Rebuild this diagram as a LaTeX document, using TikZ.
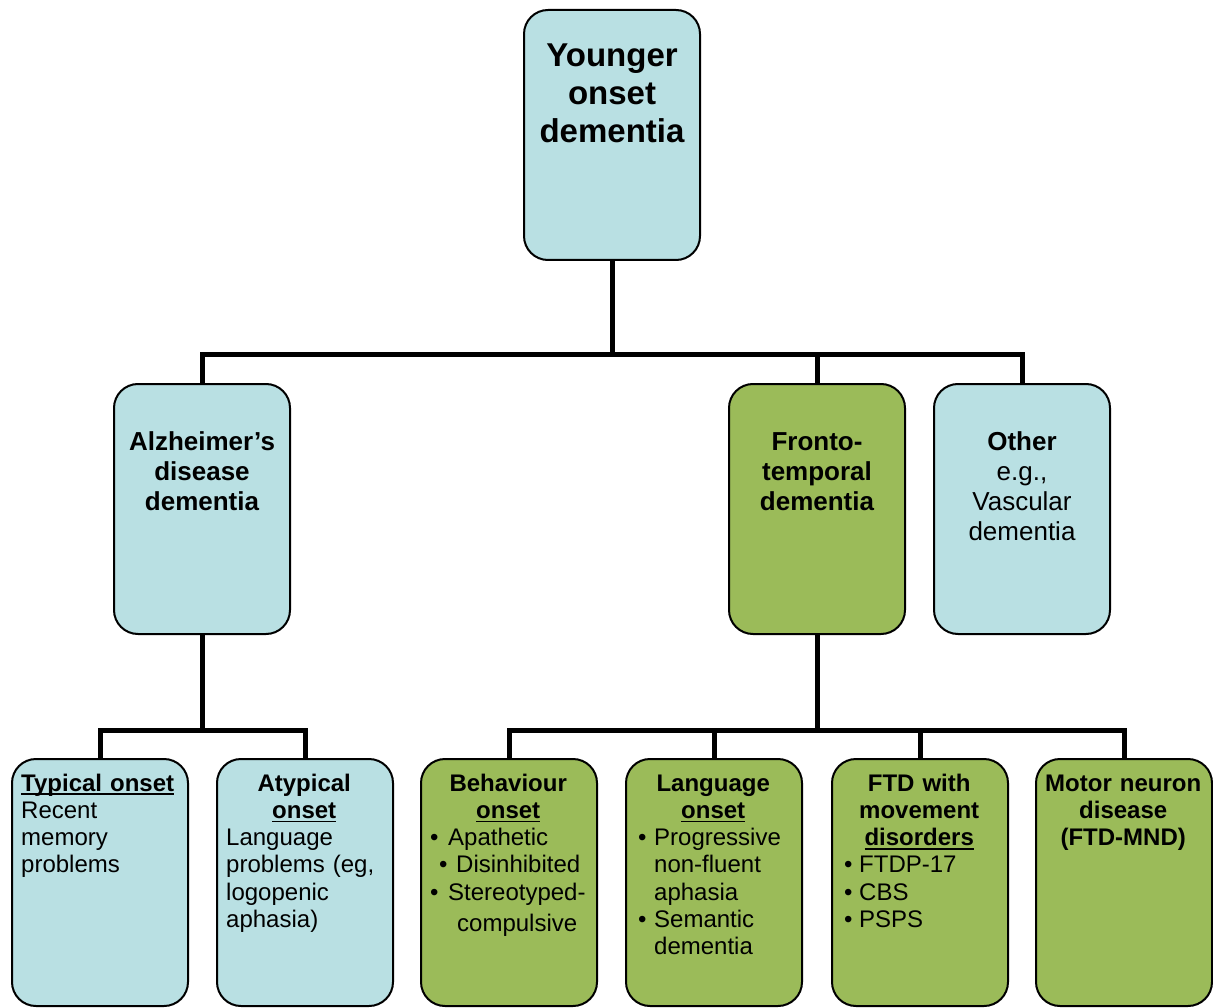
\documentclass[tikz,border=0pt]{standalone}
\usepackage{fontspec}
\setmainfont{Liberation Sans}
\usepackage{xcolor}

\definecolor{boxblue}{HTML}{B9E0E3}
\definecolor{boxgreen}{HTML}{9BBB59}

\newcommand{\ulword}[1]{\leavevmode\sbox0{#1}\rlap{\rule[-4pt]{\wd0}{1.8pt}}\usebox0}
\newcommand{\bulletat}[2]{\hspace*{#1}\makebox[#2][l]{•}}

\begin{document}
\begin{tikzpicture}
[x=1pt,y=-1pt,
 dembox/.style={draw,line width=2pt,rounded corners=24pt,minimum width=176pt,minimum height=250pt,inner sep=0pt},
 leafbox/.style={dembox,minimum height=247pt},
 treeline/.style={line width=5pt},
 toptext/.style={text width=170pt,align=center,inner sep=0pt,anchor=base,font=\fontsize{33}{38}\selectfont\bfseries},
 midtext/.style={text width=166pt,align=center,inner sep=0pt,anchor=base,font=\fontsize{26}{30}\selectfont},
 leaftext/.style={text width=156pt,align=left,inner sep=0pt,anchor=base west,font=\fontsize{24}{27.3}\selectfont}]

\useasboundingbox (0,0) rectangle (1213,1008);

\node[dembox,fill=boxblue] (young) at (612,135) {}; %top
\node[toptext] (youngtxt) at ([yshift=-58pt]young.north) {Younger\\onset\\dementia};

\node[dembox,fill=boxblue] (alz) at (202,509) {};
\node[dembox,fill=boxgreen] (ftd) at (817,509) {};
\node[dembox,fill=boxblue] (other) at (1022,509) {};

\node[midtext] (alztxt) at ([yshift=-67pt]alz.north) {\bfseries Alzheimer’s\\disease\\dementia};
\node[midtext] (ftdtxt) at ([yshift=-67pt]ftd.north) {\bfseries Fronto-\\temporal\\dementia};
\node[midtext] (othertxt) at ([yshift=-67pt]other.north) {{\bfseries Other}\\e.g.,\\Vascular\\dementia};

\node[leafbox,fill=boxblue] (typ) at (100,882.5) {};
\node[leafbox,fill=boxblue] (atyp) at (305,882.5) {};
\node[leafbox,fill=boxgreen] (beh) at (509,882.5) {};
\node[leafbox,fill=boxgreen] (lang) at (714,882.5) {};
\node[leafbox,fill=boxgreen] (mov) at (920,882.5) {};
\node[leafbox,fill=boxgreen] (mnd) at (1124,882.5) {};

\node[leaftext] (typtxt) at ([xshift=10pt,yshift=-33pt]typ.north west)
  {{\bfseries\ulword{Typical onset}}\\Recent\\memory\\problems};
\node[leaftext] (atyptxt) at ([xshift=10pt,yshift=-33pt]atyp.north west)
  {{\centering\bfseries Atypical\\\ulword{onset}\par}Language\\problems (eg,\\logopenic\\aphasia)};
\node[leaftext] (behtxt) at ([xshift=10pt,yshift=-33pt]beh.north west)
  {{\centering\bfseries Behaviour\\\ulword{onset}\par}%
   \bulletat{0pt}{18pt}Apathetic\\
   \bulletat{9pt}{17pt}Disinhibited\\
   \bulletat{0pt}{18pt}Stereotyped-\\[4pt]
   \hspace*{27pt}compulsive};
\node[leaftext] (langtxt) at ([xshift=10pt,yshift=-33pt]lang.north west)
  {{\centering\bfseries Language\\\ulword{onset}\par}%
   \bulletat{3pt}{16pt}Progressive\\
   \hspace*{19pt}non-fluent\\
   \hspace*{19pt}aphasia\\
   \bulletat{3pt}{16pt}Semantic\\
   \hspace*{19pt}dementia};
\node[leaftext] (movtxt) at ([xshift=10pt,yshift=-33pt]mov.north west)
  {{\centering\bfseries FTD with\\movement\\\ulword{disorders}\par}%
   \bulletat{3pt}{15pt}FTDP-17\\
   \bulletat{3pt}{15pt}CBS\\
   \bulletat{3pt}{15pt}PSPS};
\node[leaftext] (mndtxt) at ([xshift=10pt,yshift=-33pt]mnd.north west)
  {{\centering\bfseries Motor neuron\\disease\\(FTD-MND)\par}};

\coordinate (topbus) at (612,354);
\coordinate (alzbus) at (202,730);
\coordinate (ftdbus) at (817,730);

\draw[treeline] (young) -- (topbus); %stem
\draw[treeline] (alz.north) |- (topbus) -| (other.north);
\draw[treeline] (ftd) -- (ftd |- topbus);

\draw[treeline] (alz) -- (alzbus);
\draw[treeline] (typ.north) |- (alzbus) -| (atyp.north);

\draw[treeline] (ftd) -- (ftdbus);
\draw[treeline] (beh.north) |- (ftdbus) -| (mnd.north);
\draw[treeline] (lang) -- (lang |- ftdbus);
\draw[treeline] (mov) -- (mov |- ftdbus);
\end{tikzpicture}
\end{document}
